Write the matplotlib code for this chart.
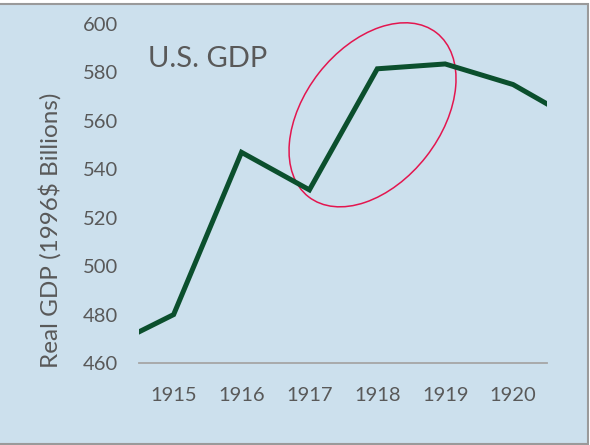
import matplotlib
matplotlib.use('Agg')
import matplotlib.pyplot as plt
from matplotlib.patches import Ellipse
from matplotlib.transforms import ScaledTranslation

# data (1914 and 1921 fall just outside the view)
years = [1914, 1915, 1916, 1917, 1918, 1919, 1920, 1921]
gdp = [466, 480, 547, 531.5, 581.5, 583.5, 575, 559]
tick_years = [1915, 1916, 1917, 1918, 1919, 1920]
y_ticks = [460, 480, 500, 520, 540, 560, 580, 600]

bg = '#cce0ed'
txt = '#595959'
plt.rcParams['font.family'] = ['Lato', 'DejaVu Sans']

fig = plt.figure(figsize=(5.9, 4.45), dpi=100, facecolor='white')
# backdrop with the grey frame of the screenshot
fig.patches.append(plt.Rectangle((-0.01, 1 / 445), 0.9966 + 0.01, 1 - 5 / 445,
                                 transform=fig.transFigure, facecolor=bg,
                                 edgecolor='#9a9a9a', lw=1.5, zorder=-10))

ax = fig.add_axes([139 / 590, 1 - 363 / 445, 408 / 590, 339 / 445])
ax.set_facecolor('none')
ax.plot(years, gdp, color='#0b4f2d', lw=3.6, solid_joinstyle='miter', clip_on=True)

ax.set_xlim(1914.49, 1920.5)
ax.set_ylim(460, 600)
ax.set_xticks(tick_years)
ax.set_yticks(y_ticks)
ax.tick_params(length=0, labelsize=14.5, labelcolor=txt)
ax.tick_params(axis='x', pad=17)
ax.tick_params(axis='y', pad=15)
for s in ['top', 'right', 'left']:
    ax.spines[s].set_visible(False)
ax.spines['bottom'].set_color('#a6a6a6')
ax.spines['bottom'].set_linewidth(1.3)

ax.set_ylabel('Real GDP (1996$ Billions)', fontsize=17.5, color=txt)
ax.yaxis.set_label_coords(-0.19, 0.39)
ax.text(0.022, 0.897, 'U.S. GDP', transform=ax.transAxes, fontsize=21,
        color=txt, va='center', ha='left')

# highlight ring, sized in inches, centred on a data point
ring = Ellipse((0, 0), 2.08, 1.36, angle=52, fill=False, edgecolor='#e3164f', lw=1.1,
               transform=fig.dpi_scale_trans + ScaledTranslation(1917.93, 562.5, ax.transData),
               clip_on=False)
ax.add_patch(ring)

fig.savefig('out.png', dpi=100, facecolor='white')
